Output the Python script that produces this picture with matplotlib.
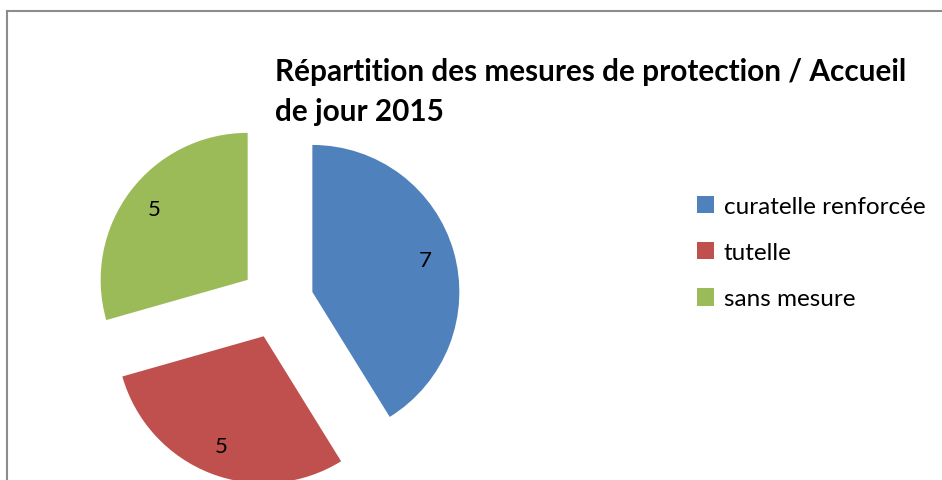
import matplotlib
matplotlib.use("Agg")
import matplotlib.pyplot as plt
from matplotlib.lines import Line2D
from matplotlib.patches import Patch

# ---------------------------------------------------------------------------
# Données
# ---------------------------------------------------------------------------
categories = ["curatelle renforcée", "tutelle", "sans mesure"]
valeurs = [7, 5, 5]
couleurs = ["#4F81BD", "#C0504D", "#9BBB59"]
titre = "Répartition des mesures de protection / Accueil\nde jour 2015"

W, H = 942, 481
CX, CY, R = 277, 303, 147      # centre et rayon du camembert (pixels)

plt.rcParams["font.family"] = ["Lato", "DejaVu Sans"]

fig = plt.figure(figsize=(W / 100, H / 100), dpi=100)
fig.patch.set_facecolor("white")

ax = fig.add_axes([0, 0, 1, 1])
ax.axis("off")

total = sum(valeurs)
wedges, _, autotexts = ax.pie(
    valeurs, colors=couleurs, startangle=90, counterclock=False,
    explode=[0.25] * len(valeurs), radius=1.0, center=(0, 0),
    autopct=lambda p: f"{round(p * total / 100)}", pctdistance=0.8,
    textprops={"fontsize": 16, "color": "black"},
    wedgeprops={"linewidth": 0})
ax.set_xlim(-CX / R, (W - CX) / R)
ax.set_ylim(-(H - CY) / R, CY / R)
ax.set_aspect("equal")

# cadre gris (haut et gauche)
y_top = 1 - 12 / H
x_left = 7 / W
fig.add_artist(Line2D([x_left, 1], [y_top, y_top], color="#8c8c8c",
                      linewidth=1.5, transform=fig.transFigure))
fig.add_artist(Line2D([x_left, x_left], [0, y_top], color="#8c8c8c",
                      linewidth=1.5, transform=fig.transFigure))

fig.text(275 / W, 1 - 92 / H, titre, fontsize=21.4, fontweight="bold",
         ha="left", va="center", linespacing=1.5)

handles = [Patch(facecolor=c, edgecolor="none") for c in couleurs]
fig.legend(handles, categories, loc="upper left",
           bbox_to_anchor=(675 / W, 1 - 175 / H), frameon=False,
           fontsize=17.5, handlelength=0.72, handleheight=0.72,
           handletextpad=0.38, labelspacing=1.03)

fig.savefig("out.png", dpi=100, facecolor="white")
